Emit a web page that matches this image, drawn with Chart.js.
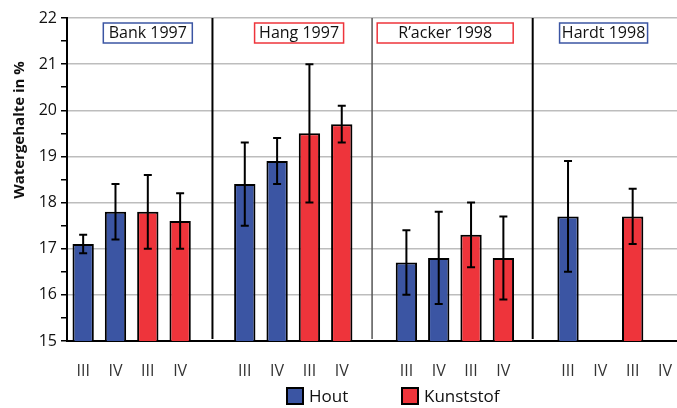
<!DOCTYPE html>
<html>
<head>
<meta charset="utf-8">
<script src="https://cdn.jsdelivr.net/npm/chart.js@4"></script>
<style>
  html, body { margin: 0; padding: 0; background: #fff; overflow: hidden; }
  #wrap { width: 677px; height: 408px; overflow: hidden; }
</style>
</head>
<body>
<div id="wrap"><canvas id="chart" width="685" height="408"></canvas></div>
<script>
// slots: 4 bars per site, one empty slot between sites
const categories = ["III", "IV", "III", "IV", "",
                    "III", "IV", "III", "IV", "",
                    "III", "IV", "III", "IV", "",
                    "III", "IV", "III", "IV"];

const hout      = [17.1, 17.8, null, null, null, 18.4, 18.9, null, null, null, 16.7, 16.8, null, null, null, 17.7, null, null, null];
const houtLow   = [16.9, 17.2, null, null, null, 17.5, 18.4, null, null, null, 16.0, 15.8, null, null, null, 16.5, null, null, null];
const houtHigh  = [17.3, 18.4, null, null, null, 19.3, 19.4, null, null, null, 17.4, 17.8, null, null, null, 18.9, null, null, null];

const kunststof     = [null, null, 17.8, 17.6, null, null, null, 19.5, 19.7, null, null, null, 17.3, 16.8, null, null, null, 17.7, null];
const kunststofLow  = [null, null, 17.0, 17.0, null, null, null, 18.0, 19.3, null, null, null, 16.6, 15.9, null, null, null, 17.1, null];
const kunststofHigh = [null, null, 18.6, 18.2, null, null, null, 21.0, 20.1, null, null, null, 18.0, 17.7, null, null, null, 18.3, null];

const sites = ["Bank 1997", "Hang 1997", "R\u2019acker 1998", "Hardt 1998"];

const BLUE = "#3b55a3";
const RED = "#ee343b";
const FONT = "'Open Sans', sans-serif";

// label boxes above each site: centre (in slot units), box width, border colour
const siteBoxes = [
  { at: 2.0, w: 89, color: BLUE },
  { at: 6.68, w: 89, color: RED },
  { at: 11.2, w: 136, color: RED },
  { at: 16.1, w: 88, color: BLUE }
];

// vertical separators between sites
const separators = [
  { slot: 4, shift: 0, color: "#000", width: 2 },
  { slot: 9, shift: -2, color: "#555", width: 1.5 },
  { slot: 14, shift: -3, color: "#000", width: 2 }
];

const errorBars = {
  id: "errorBars",
  afterDatasetsDraw(chart) {
    const ctx = chart.ctx;
    const y = chart.scales.y;
    const ranges = [[houtLow, houtHigh], [kunststofLow, kunststofHigh]];
    ctx.save();
    ctx.strokeStyle = "#000";
    ctx.lineWidth = 2;
    chart.data.datasets.forEach((ds, di) => {
      const meta = chart.getDatasetMeta(di);
      const [lo, hi] = ranges[di];
      meta.data.forEach((bar, i) => {
        if (ds.data[i] == null) return;
        const x = bar.x;
        const y1 = y.getPixelForValue(lo[i]);
        const y2 = y.getPixelForValue(hi[i]);
        ctx.beginPath();
        ctx.moveTo(x, y1); ctx.lineTo(x, y2);
        ctx.moveTo(x - 4, y1); ctx.lineTo(x + 4, y1);
        ctx.moveTo(x - 4, y2); ctx.lineTo(x + 4, y2);
        ctx.stroke();
      });
    });
    ctx.restore();
  }
};

const decorations = {
  id: "decorations",
  afterDraw(chart) {
    const ctx = chart.ctx;
    const xs = chart.scales.x;
    const area = chart.chartArea;
    ctx.save();

    // separators
    separators.forEach(s => {
      const x = xs.getPixelForValue(s.slot) + s.shift;
      ctx.strokeStyle = s.color;
      ctx.lineWidth = s.width;
      ctx.beginPath();
      ctx.moveTo(x, area.top);
      ctx.lineTo(x, area.bottom - 2);
      ctx.stroke();
    });

    // site boxes
    ctx.font = "16px " + FONT;
    ctx.textAlign = "center";
    ctx.textBaseline = "middle";
    sites.forEach((name, i) => {
      const b = siteBoxes[i];
      const step = xs.getPixelForValue(1) - xs.getPixelForValue(0);
      const cx = xs.getPixelForValue(0) + b.at * step;
      ctx.fillStyle = "#fff";
      ctx.fillRect(cx - b.w / 2, 23, b.w, 20);
      ctx.strokeStyle = b.color;
      ctx.lineWidth = 1.5;
      ctx.strokeRect(cx - b.w / 2, 23, b.w, 20);
      ctx.fillStyle = "#111";
      ctx.fillText(name, cx, 33.5);
    });

    // y axis title
    ctx.save();
    ctx.translate(20, 130);
    ctx.rotate(-Math.PI / 2);
    ctx.font = "bold 15px " + FONT;
    ctx.fillStyle = "#111";
    ctx.fillText("Watergehalte in %", 0, 0);
    ctx.restore();

    // legend
    ctx.font = "17px " + FONT;
    ctx.textAlign = "left";
    const items = [{ x: 287, ds: chart.data.datasets[0] }, { x: 402, ds: chart.data.datasets[1] }];
    items.forEach(it => {
      ctx.fillStyle = it.ds.backgroundColor;
      ctx.fillRect(it.x, 388, 16, 16);
      ctx.strokeStyle = "#000";
      ctx.lineWidth = 2;
      ctx.strokeRect(it.x, 388, 16, 16);
      ctx.fillStyle = "#111";
      ctx.fillText(it.ds.label, it.x + 22, 397);
    });
    ctx.restore();
  }
};

new Chart(document.getElementById("chart"), {
  type: "bar",
  data: {
    labels: categories,
    datasets: [
      { label: "Hout", data: hout, backgroundColor: BLUE, borderColor: "#000", borderWidth: 2 },
      { label: "Kunststof", data: kunststof, backgroundColor: RED, borderColor: "#000", borderWidth: 2 }
    ]
  },
  options: {
    responsive: false,
    animation: false,
    devicePixelRatio: 1,
    layout: { padding: { top: 18, left: 0, right: 0, bottom: 0 } },
    datasets: { bar: { grouped: false, barPercentage: 0.66, categoryPercentage: 1 } },
    plugins: { legend: { display: false }, tooltip: { enabled: false } },
    scales: {
      x: {
        grid: { display: false },
        border: { color: "#000", width: 2 },
        ticks: { color: "#333", font: { family: FONT, size: 16 }, padding: 13, autoSkip: false, maxRotation: 0 },
        afterFit: s => { s.height = 67; }
      },
      y: {
        min: 15,
        max: 22,
        border: { color: "#000", width: 2 },
        grid: {
          color: c => Number.isInteger(c.tick.value) ? "#bdbdbd" : "transparent",
          lineWidth: 1.5,
          tickColor: "#000",
          tickLength: 6
        },
        ticks: {
          stepSize: 0.5,
          color: "#111",
          padding: 4,
          font: { family: FONT, size: 16 },
          callback: v => Number.isInteger(v) ? v : ""
        },
        afterFit: s => { s.width = 67; }
      }
    }
  },
  plugins: [errorBars, decorations]
});
</script>
</body>
</html>
